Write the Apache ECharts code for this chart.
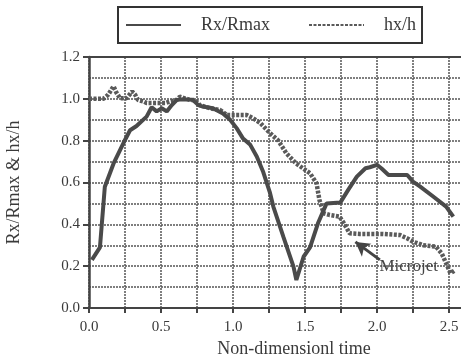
<!DOCTYPE html>
<html>
<head>
<meta charset="utf-8">
<script src="https://cdn.jsdelivr.net/npm/echarts@6/dist/echarts.min.js"></script>
<style>
    html, body { margin: 0; padding: 0; background: #fff; overflow: hidden; width: 461px; height: 356px; }
    /* 图比窗口宽, 右边被裁掉 (原图在 2.58 左右被裁) */
    #chart { width: 521px; height: 356px; }
</style>
</head>
<body>
<div id="chart"></div>
<script>
    // Rx/Rmax 实线 (x, y)
    var rxTime = [0.02, 0.076, 0.11, 0.17, 0.24, 0.285, 0.33, 0.40, 0.435, 0.47, 0.505, 0.54, 0.575, 0.61, 0.655, 0.72,
        0.76, 0.79, 0.86, 0.93, 0.98, 1.025, 1.07, 1.12, 1.165, 1.21, 1.257, 1.28, 1.35, 1.42, 1.44, 1.49, 1.535,
        1.59, 1.65, 1.745, 1.80, 1.86, 1.92, 1.95, 2.0, 2.03, 2.08, 2.21, 2.25, 2.30, 2.39, 2.48, 2.53];
    var rxValue = [0.23, 0.29, 0.58, 0.69, 0.79, 0.85, 0.87, 0.915, 0.96, 0.94, 0.955, 0.94, 0.97, 0.995, 0.998, 0.995,
        0.97, 0.963, 0.955, 0.93, 0.90, 0.86, 0.81, 0.78, 0.724, 0.65, 0.55, 0.485, 0.34, 0.198, 0.134, 0.245, 0.29,
        0.405, 0.50, 0.504, 0.565, 0.628, 0.668, 0.673, 0.684, 0.668, 0.636, 0.636, 0.604, 0.58, 0.533, 0.485, 0.437];

    // hx/h 点线
    var hxTime = [0.0, 0.10, 0.134, 0.17, 0.19, 0.215, 0.26, 0.30, 0.32, 0.34, 0.38, 0.40, 0.47, 0.53, 0.56, 0.61,
        0.63, 0.70, 0.736, 0.77, 0.84, 0.91, 0.956, 1.0, 1.095, 1.14, 1.19, 1.257, 1.315, 1.37, 1.44, 1.535, 1.58,
        1.60, 1.63, 1.67, 1.74, 1.77, 1.81, 1.88, 2.04, 2.16, 2.21, 2.25, 2.32, 2.41, 2.45, 2.48, 2.51, 2.54];
    var hxValue = [1.0, 1.0, 1.02, 1.06, 1.03, 1.003, 1.003, 1.035, 1.02, 0.995, 0.987, 0.98, 0.98, 0.98, 0.987, 0.995,
        1.01, 0.995, 0.995, 0.97, 0.955, 0.947, 0.923, 0.923, 0.923, 0.907, 0.884, 0.836, 0.80, 0.74, 0.69, 0.644, 0.597,
        0.517, 0.453, 0.445, 0.437, 0.405, 0.357, 0.354, 0.354, 0.349, 0.333, 0.317, 0.30, 0.293, 0.26, 0.214, 0.166, 0.18];

    var xLabels = ['0.0', '0.5', '1.0', '1.5', '2.0', '2.5'];
    var yLabels = ['0.0', '0.2', '0.4', '0.6', '0.8', '1.0', '1.2'];

    // 注释: Microjet 箭头
    var arrowFrom = [2.02, 0.23];
    var arrowTo = [1.85, 0.316];
    var noteAt = [2.22, 0.2];

    var FONT = 'Liberation Serif';
    var INK = '#3a3a3a';

    function pairs(xs, ys) {
        var out = [];
        for (var i = 0; i < xs.length; i++) {
            out.push([xs[i], ys[i]]);
        }
        return out;
    }

    var gridLine = { show: true, lineStyle: { color: '#555', width: 1.5, type: [2, 1] } };

    var myChart = echarts.init(document.getElementById('chart'), null, { renderer: 'canvas' });
    myChart.setOption({
        backgroundColor: '#fff',
        animation: false,
        textStyle: { fontFamily: FONT },
        legend: {
            top: 7,
            left: 118,
            orient: 'horizontal',
            itemWidth: 55,
            itemHeight: 14,
            itemGap: 38,
            padding: [9, 6, 9, 7],
            borderColor: '#333',
            borderWidth: 2,
            itemStyle: { opacity: 0 },
            textStyle: { fontFamily: FONT, fontSize: 18, color: INK, padding: [0, 0, 0, 15] },
            data: ['Rx/Rmax', 'hx/h']
        },
        grid: { left: 89, top: 57, bottom: 48, right: 0, containLabel: false, outerBoundsMode: 'none' },
        xAxis: [{
            type: 'value',
            min: 0,
            max: 3.0,
            interval: 0.5,
            name: 'Non-dimensionl time',
            nameLocation: 'middle',
            nameGap: 25,
            nameTextStyle: { fontFamily: FONT, fontSize: 18, color: INK, padding: [0, 22, 0, 0] },
            axisLine: { show: true, lineStyle: { color: '#444', width: 2 } },
            axisTick: { show: true, inside: false, length: 5, lineStyle: { color: '#444', width: 2 } },
            minorTick: { show: true, splitNumber: 2, length: 5, lineStyle: { color: '#444', width: 2 } },
            axisLabel: {
                fontFamily: FONT, fontSize: 15, color: INK, margin: 12, showMaxLabel: false,
                formatter: function (v) {
                    var i = Math.round(v / 0.5);
                    return xLabels[i] || '';
                }
            },
            splitLine: gridLine,
            minorSplitLine: gridLine
        }, {
            type: 'value',
            position: 'top',
            min: 0,
            max: 3.0,
            axisLine: { show: true, lineStyle: { color: '#444', width: 2 } },
            axisTick: { show: false },
            axisLabel: { show: false },
            splitLine: { show: false }
        }],
        yAxis: {
            type: 'value',
            min: 0,
            max: 1.2,
            interval: 0.2,
            name: 'Rx/Rmax & hx/h',
            nameLocation: 'middle',
            nameGap: 66,
            nameTextStyle: { fontFamily: FONT, fontSize: 18, color: INK },
            axisLine: { show: true, lineStyle: { color: '#444', width: 2.5 } },
            axisTick: { show: true, inside: false, length: 6, lineStyle: { color: '#444', width: 2 } },
            minorTick: { show: false, splitNumber: 2 },
            axisLabel: {
                fontFamily: FONT, fontSize: 15, color: INK, margin: 9,
                formatter: function (v) {
                    var i = Math.round(v / 0.2);
                    return yLabels[i] || '';
                }
            },
            splitLine: gridLine,
            minorSplitLine: gridLine
        },
        series: [{
            name: 'Rx/Rmax',
            type: 'line',
            data: pairs(rxTime, rxValue),
            symbol: 'none',
            lineStyle: { color: '#4a4a4a', width: 4 },
            itemStyle: { color: '#4a4a4a' },
            z: 3
        }, {
            name: 'hx/h',
            type: 'line',
            data: pairs(hxTime, hxValue),
            symbol: 'none',
            lineStyle: { color: '#5a5a5a', width: 4.5, type: [3, 1.5] },
            itemStyle: { color: '#5a5a5a' },
            z: 2,
            markLine: {
                silent: true,
                symbol: ['none', 'arrow'],
                symbolSize: [12, 14],
                label: { show: false },
                lineStyle: { color: '#444', width: 3, type: 'solid' },
                data: [[{ coord: arrowFrom }, { coord: arrowTo }]]
            },
            markPoint: {
                silent: true,
                symbol: 'circle',
                symbolSize: 0,
                label: {
                    show: true,
                    position: 'inside',
                    formatter: 'Microjet',
                    fontFamily: FONT,
                    fontSize: 17,
                    color: '#444'
                },
                data: [{ coord: noteAt }]
            }
        }]
    });
</script>
</body>
</html>
